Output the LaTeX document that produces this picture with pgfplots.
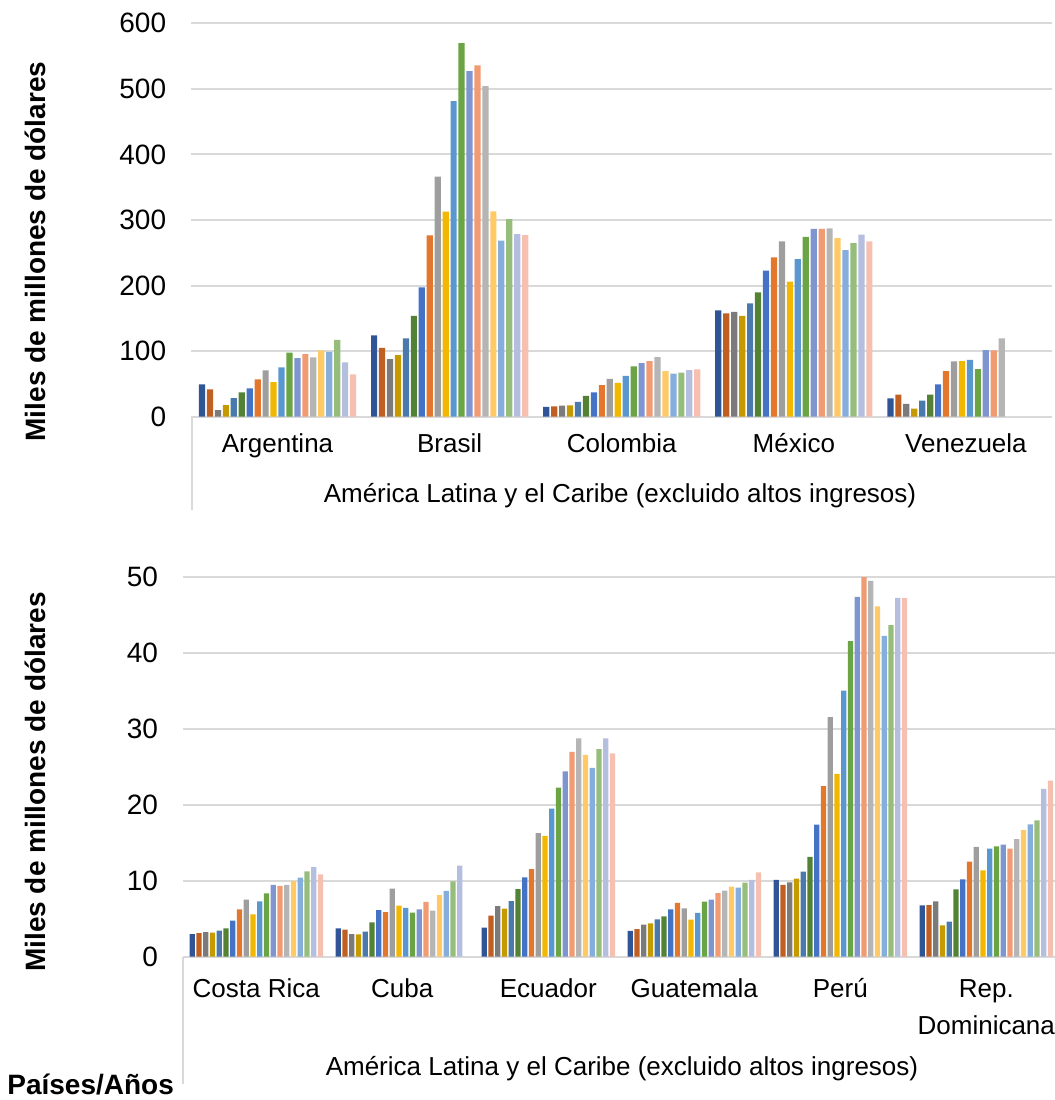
\documentclass[border=0pt]{standalone}
\usepackage{pgfplots}
\pgfplotsset{compat=1.18}
\usepackage{pgfplotstable}
\usepackage{fontspec}
\setmainfont{Liberation Sans}

\definecolor{c1}{HTML}{2F5597}
\definecolor{c2}{HTML}{C05F22}
\definecolor{c3}{HTML}{7B7B7B}
\definecolor{c4}{HTML}{C49A00}
\definecolor{c5}{HTML}{4A7AAB}
\definecolor{c6}{HTML}{548235}
\definecolor{c7}{HTML}{4472C4}
\definecolor{c8}{HTML}{E3772E}
\definecolor{c9}{HTML}{9E9E9E}
\definecolor{c10}{HTML}{F2B700}
\definecolor{c11}{HTML}{5B97CF}
\definecolor{c12}{HTML}{6AA444}
\definecolor{c13}{HTML}{7E95CF}
\definecolor{c14}{HTML}{F19B73}
\definecolor{c15}{HTML}{B5B5B5}
\definecolor{c16}{HTML}{FFCA66}
\definecolor{c17}{HTML}{86AEDC}
\definecolor{c18}{HTML}{96BD7B}
\definecolor{c19}{HTML}{B4BFE0}
\definecolor{c20}{HTML}{F5C0AF}
\definecolor{gridc}{HTML}{D9D9D9}

\pgfplotstableread{
x s1 s2 s3 s4 s5 s6 s7 s8 s9 s10 s11 s12 s13 s14 s15 s16 s17 s18 s19 s20
0 49.4 41.8 10.2 17.8 28.5 37.2 43.3 57.0 70.7 52.9 75.3 97.6 89.5 95.6 90.5 101.2 98.7 117.0 82.9 64.6
1 124.1 104.8 88.0 94.1 119.5 153.6 197.3 276.6 366.0 312.6 481.5 569.9 527.2 535.9 504.3 313.2 268.4 301.5 278.6 277.1
2 14.8 15.8 16.8 17.2 22.6 31.6 37.2 48.3 57.5 51.4 62.1 76.8 81.9 84.9 91.0 69.7 65.6 67.1 71.2 72.2
3 162.2 157.7 159.7 153.6 172.9 189.7 222.7 243.1 267.5 205.9 240.5 274.1 286.3 286.3 287.3 272.5 254.2 264.9 277.6 267.5
4 28.0 33.6 19.4 12.2 24.4 33.6 49.4 69.7 84.5 84.9 86.5 72.7 101.7 101.2 119.5 nan nan nan nan nan
}\topdata

\pgfplotstableread{
x s1 s2 s3 s4 s5 s6 s7 s8 s9 s10 s11 s12 s13 s14 s15 s16 s17 s18 s19 s20
0 2.99 3.12 3.25 3.16 3.43 3.74 4.74 6.24 7.51 5.59 7.30 8.35 9.45 9.35 9.45 9.97 10.41 11.25 11.82 10.85
1 3.74 3.56 2.99 2.95 3.29 4.53 6.15 5.89 8.96 6.72 6.42 5.80 6.24 7.21 6.06 8.13 8.66 9.93 11.99 nan
2 3.82 5.40 6.68 6.32 7.34 8.92 10.46 11.55 16.30 15.94 19.50 22.27 24.43 27.00 28.77 26.60 24.90 27.36 28.77 26.80
3 3.39 3.65 4.22 4.40 4.93 5.32 6.24 7.08 6.38 4.87 5.76 7.25 7.51 8.39 8.70 9.22 9.09 9.75 10.14 11.12
4 10.14 9.45 9.80 10.28 11.20 13.14 17.39 22.49 31.58 24.11 35.05 41.59 47.43 50.16 49.54 46.16 42.29 43.70 47.30 47.30
5 6.77 6.80 7.30 4.14 4.61 8.88 10.20 12.52 14.49 11.38 14.23 14.55 14.76 14.23 15.51 16.69 17.44 17.97 22.13 23.19
}\botdata

\pgfplotsset{
  excelbase/.style={
    scale only axis,
    axis line style={draw=none},
    ymajorgrids,
    grid style={color=gridc, line width=1pt},
    major tick length=0pt,
    ymin=0,
    /pgf/number format/assume math mode=true,
    yticklabel style={font=\fontsize{14}{16}\selectfont, anchor=east, inner sep=0pt, xshift=-12.5pt},
    xticklabel style={font=\fontsize{13}{18.5}\selectfont, anchor=base, inner sep=0pt},
    clip=true,
  }
}

\begin{document}
\begin{tikzpicture}
\useasboundingbox (0pt,0pt) rectangle (527.5pt,550pt);

% ---------------- top chart ----------------
\begin{axis}[
  excelbase,
  at={(95.75pt,341.65pt)}, anchor=south west,
  width=430.25pt, height=196.7pt,
  xmin=-0.5, xmax=4.5,
  ymax=600,
  ytick={0,100,200,300,400,500,600},
  xtick={0,1,2,3,4},
  xticklabels={Argentina,Brasil,Colombia,México,Venezuela},
  xticklabel style={yshift=-18pt},
  ybar=0.875pt, bar width=3.1pt,
]
\pgfplotsinvokeforeach{1,...,20}{
  \addplot[fill=c#1, draw=none] table[x=x, y=s#1]{\topdata};
}
\end{axis}

% ---------------- bottom chart ----------------
\begin{axis}[
  excelbase,
  at={(91.65pt,71.65pt)}, anchor=south west,
  width=438pt, height=189.7pt,
  xmin=-0.5, xmax=5.5,
  ymax=50,
  ytick={0,10,20,30,40,50},
  xtick={0,1,2,3,4,5},
  xticklabels={Costa Rica,Cuba,Ecuador,Guatemala,Perú,{\begin{tabular}[t]{@{}c@{}}Rep.\\Dominicana\end{tabular}}},
  xticklabel style={yshift=-20.5pt},
  ybar=0.775pt, bar width=2.6pt,
]
\pgfplotsinvokeforeach{1,...,20}{
  \addplot[fill=c#1, draw=none] table[x=x, y=s#1]{\botdata};
}
\end{axis}

% frame lines of the category axes
\draw[gridc, line width=1pt] (95.75pt,341.65pt) -- (95.75pt,295pt);
\draw[gridc, line width=1pt] (91.65pt,71.65pt) -- (91.65pt,8pt);

% axis titles
\node[rotate=90, font=\bfseries\fontsize{14}{16}\selectfont] at (17.5pt,424.25pt) {Miles de millones de dólares};
\node[rotate=90, font=\bfseries\fontsize{14}{16}\selectfont] at (17.5pt,159pt) {Miles de millones de dólares};
\node[anchor=base, inner sep=0pt, font=\fontsize{13}{15}\selectfont] at (310pt,298.5pt) {América Latina y el Caribe (excluido altos ingresos)};
\node[anchor=base, inner sep=0pt, font=\fontsize{13}{15}\selectfont] at (311pt,12.5pt) {América Latina y el Caribe (excluido altos ingresos)};
\node[anchor=base west, inner sep=0pt, font=\bfseries\fontsize{14}{16}\selectfont] at (3.5pt,2.5pt) {Países/Años};
\end{tikzpicture}
\end{document}
